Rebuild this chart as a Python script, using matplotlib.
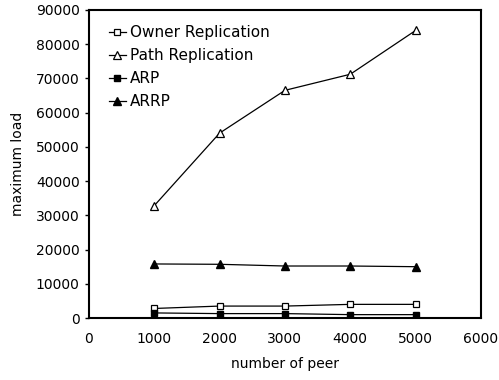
import matplotlib
matplotlib.use("Agg")
import matplotlib.pyplot as plt

peers = [1000, 2000, 3000, 4000, 5000]
owner = [2800, 3500, 3500, 4000, 4000]
path = [32800, 54000, 66500, 71200, 84000]
arp = [1500, 1300, 1300, 1000, 1000]
arrp = [15800, 15700, 15200, 15200, 15000]

plt.rcParams['font.family'] = ['DejaVu Sans']

fig = plt.figure(figsize=(4.99, 3.8), dpi=100)
ax = fig.add_axes([0.178, 0.163, 0.786, 0.811])

ax.plot(peers, owner, color='black', lw=0.9, marker='s', ms=5, mfc='white', mec='black', mew=0.9, label='Owner Replication')
ax.plot(peers, path, color='black', lw=0.9, marker='^', ms=5.5, mfc='white', mec='black', mew=0.9, label='Path Replication')
ax.plot(peers, arp, color='black', lw=0.9, marker='s', ms=5, mfc='black', mec='black', label='ARP')
ax.plot(peers, arrp, color='black', lw=0.9, marker='^', ms=5.5, mfc='black', mec='black', label='ARRP')

ax.set_xlim(0, 6000)
ax.set_ylim(0, 90000)
ax.set_xticks(range(0, 6001, 1000))
ax.set_yticks(range(0, 90001, 10000))
ax.tick_params(axis='x', length=0, pad=10, labelsize=10)
ax.tick_params(axis='y', length=3, width=1, direction='out', labelsize=10)
for s in ax.spines.values():
    s.set_linewidth(1.5)

ax.set_xlabel('number of peer', fontsize=10, labelpad=8)
ax.set_ylabel('maximum load', fontsize=10, labelpad=8)

ax.legend(loc='upper left', frameon=False, fontsize=11, handlelength=1.1,
          handletextpad=0.25, labelspacing=0.52, borderaxespad=0.4,
          bbox_to_anchor=(0.02, 0.99))

fig.savefig('out.png', dpi=100)
